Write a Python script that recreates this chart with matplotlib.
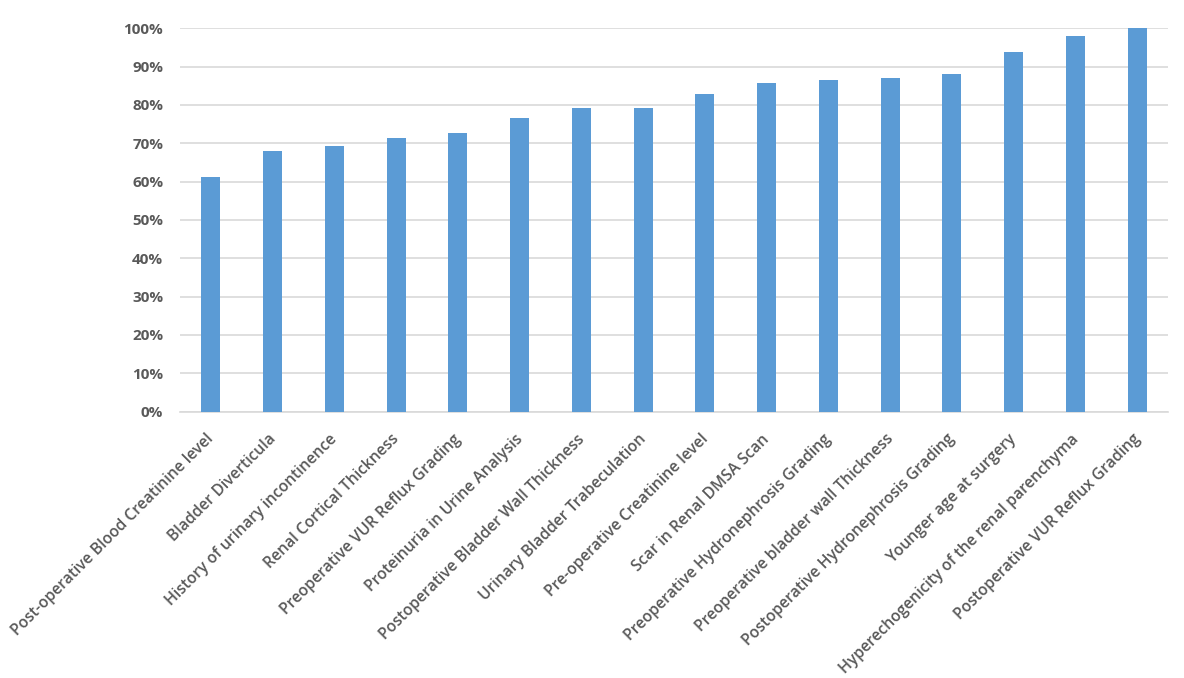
import matplotlib
matplotlib.use("Agg")
import matplotlib.pyplot as plt
import matplotlib.transforms as mtransforms
from matplotlib.ticker import PercentFormatter, MultipleLocator

categories = [
    "Post-operative Blood Creatinine level",
    "Bladder Diverticula",
    "History of urinary incontinence",
    "Renal Cortical Thickness",
    "Preoperative VUR Reflux Grading",
    "Proteinuria in Urine Analysis",
    "Postoperative Bladder Wall Thickness",
    "Urinary Bladder Trabeculation",
    "Pre-operative Creatinine level",
    "Scar in Renal DMSA Scan",
    "Preoperative Hydronephrosis Grading",
    "Preoperative bladder wall Thickness",
    "Postoperative Hydronephrosis Grading",
    "Younger age at surgery",
    "Hyperechogenicity of the renal parenchyma",
    "Postoperative VUR Reflux Grading",
]
values = [61.1, 68.0, 69.2, 71.5, 72.7, 76.6, 79.2, 79.2, 82.8, 85.6, 86.4, 87.0, 88.2, 93.7, 97.9, 100.0]

plt.rcParams['font.family'] = ['Open Sans', 'DejaVu Sans']
text_color = '#595959'

fig = plt.figure(figsize=(11.84, 6.78), dpi=100)
ax = fig.add_axes([180/1184, 1 - 411.5/678, 988/1184, 383.2/678])

x = range(len(categories))
ax.bar(x, values, width=0.31, color='#5B9BD5', zorder=3)
ax.set_xlim(-0.5, len(categories) - 0.5)
ax.set_ylim(0, 100)
ax.yaxis.set_major_locator(MultipleLocator(10))
ax.yaxis.set_major_formatter(PercentFormatter(100, decimals=0))
ax.grid(axis='y', color='#D9D9D9', linewidth=1.2, zorder=0)
for s in ['top', 'right', 'left']:
    ax.spines[s].set_visible(False)
ax.spines['bottom'].set_color('#D9D9D9')
ax.spines['bottom'].set_linewidth(1.2)
ax.tick_params(axis='both', length=0)
ax.tick_params(axis='y', pad=12)
for lbl in ax.get_yticklabels():
    lbl.set_fontsize(11)
    lbl.set_fontweight('bold')
    lbl.set_color(text_color)

ax.set_xticks(list(x))
ax.set_xticklabels(categories, rotation=45, ha='right', va='top',
                   rotation_mode='anchor', fontsize=11.3, color=text_color,
                   fontweight='semibold')
ax.tick_params(axis='x', pad=12)
offset = mtransforms.ScaledTranslation(-5/100, -3/100, fig.dpi_scale_trans)
for lbl in ax.get_xticklabels():
    lbl.set_transform(lbl.get_transform() + offset)

fig.savefig('out.png', dpi=100)
